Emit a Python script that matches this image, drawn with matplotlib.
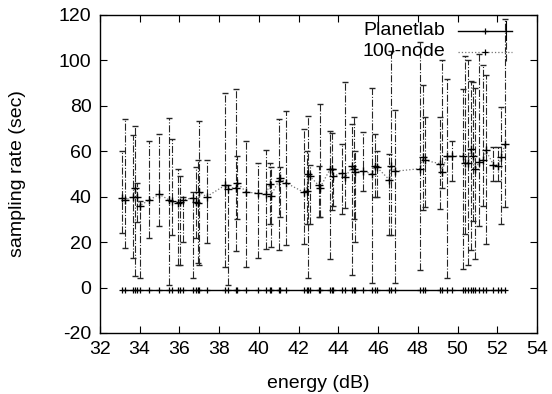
import matplotlib
matplotlib.use("Agg")
import matplotlib.pyplot as plt
import numpy as np

plt.rcParams['font.family'] = ['Liberation Sans', 'DejaVu Sans']
plt.rcParams['axes.unicode_minus'] = False

# 100-node series: energy (dB), mean sampling rate, low / high of error bar
energia = [33.09, 33.26, 33.68, 33.76, 33.88, 34.00, 34.48, 34.98, 35.50, 35.63,
           35.94, 36.03, 36.17, 36.67, 36.83, 36.95, 37.00, 37.37, 38.30, 38.44,
           38.84, 38.92, 39.36, 39.98, 40.36, 40.54, 40.61, 41.00, 41.08, 41.38,
           42.25, 42.40, 42.49, 42.57, 43.00, 43.08, 43.60, 43.70, 43.75, 44.20,
           44.34, 44.70, 44.80, 44.86, 45.26, 45.68, 45.85, 45.93, 46.57, 46.64,
           46.85, 48.10, 48.27, 48.36, 49.12, 49.20, 49.45, 49.70, 50.26, 50.37,
           50.54, 50.66, 50.76, 50.88, 51.10, 51.26, 51.43, 51.80, 52.05, 52.20,
           52.39]
media = [39.5, 38.5, 40.0, 44.0, 40.0, 36.0, 38.5, 41.0, 38.5, 38.0,
         37.0, 37.5, 38.5, 39.5, 37.5, 37.0, 42.0, 40.0, 45.0, 43.5,
         44.0, 46.0, 42.0, 41.5, 41.0, 45.5, 40.5, 47.0, 48.0, 46.0,
         42.0, 42.5, 50.0, 49.0, 45.0, 44.0, 52.4, 52.0, 49.0, 50.4,
         48.5, 53.3, 52.0, 51.0, 51.2, 50.0, 53.7, 53.0, 47.4, 53.7,
         51.2, 52.3, 57.4, 56.0, 54.5, 50.8, 57.7, 57.7, 58.0, 54.8,
         55.0, 61.0, 58.0, 52.3, 55.2, 56.0, 60.4, 54.0, 53.7, 57.4,
         63.3]
bajo = [23.8, 17.2, 13.0, 5.0, 29.0, 4.0, 22.0, 27.0, 1.0, 23.0,
        10.0, 10.0, 20.0, 4.0, 22.0, 11.0, 10.0, 19.5, 9.0, 1.0,
        16.0, 30.0, 9.0, 13.0, 17.0, 28.0, 18.0, 16.5, 31.0, 18.5,
        19.0, 28.0, 4.0, 28.0, 31.0, 31.0, 12.7, 34.0, 36.0, 32.5,
        35.0, 5.3, 30.0, 20.0, 42.7, 1.9, 39.8, 39.8, 23.2, 23.0,
        1.8, 7.5, 34.0, 35.4, 34.4, 43.6, 4.1, 47.0, 8.2, 23.6,
        9.7, 16.3, 29.5, 12.6, 27.3, 36.0, 19.2, 47.0, 47.0, 28.0,
        35.4]
alto = [60.3, 74.4, 67.0, 71.0, 46.0, 38.0, 64.5, 67.5, 74.5, 65.5,
        52.0, 49.0, 40.0, 42.0, 53.0, 56.0, 73.5, 56.0, 85.5, 45.0,
        87.5, 58.0, 64.5, 55.0, 60.5, 55.0, 53.0, 74.0, 53.0, 77.5,
        70.0, 60.0, 75.7, 54.0, 53.7, 81.0, 69.0, 68.0, 52.0, 63.3,
        90.5, 72.0, 75.0, 60.0, 68.4, 88.0, 67.8, 60.0, 58.9, 104.0,
        78.0, 108.0, 89.0, 75.0, 75.0, 100.0, 92.0, 64.7, 87.5, 102.0,
        100.0, 91.0, 90.4, 88.0, 103.0, 97.8, 93.4, 61.8, 61.8, 79.4,
        118.3]

# Planetlab series sits flat just under zero
planetlab = [-1.0] * len(energia)

x = np.array(energia)
y = np.array(media)
err = [y - np.array(bajo), np.array(alto) - y]

fig = plt.figure(figsize=(5.52, 3.94), dpi=100)
ax = fig.add_axes([0.181, 0.155, 0.792, 0.807])

ax.plot(x, planetlab, '-', color='black', lw=1.0, marker='+', ms=5, mew=0.9)

eb = ax.errorbar(x, y, yerr=err, fmt=':', color='0.45', lw=0.9,
                 marker='+', ms=6, mec='black', mew=1.0,
                 ecolor='0.15', elinewidth=0.8, capsize=2, capthick=0.8)
eb[2][0].set_linestyle('-.')

ax.set_xlim(32, 54)
ax.set_ylim(-20, 120)
ax.set_xticks(np.arange(32, 55, 2))
ax.set_yticks(np.arange(-20, 121, 20))
ax.tick_params(direction='in', length=5, top=True, right=True, labelsize=14, pad=6)
for s in ax.spines.values():
    s.set_linewidth(1.0)

ax.set_xlabel('energy (dB)', fontsize=14, labelpad=12)
ax.set_ylabel('sampling rate (sec)', fontsize=14, labelpad=24)

# key drawn gnuplot style: text right-justified, then sample line
ax.text(0.79, 0.95, 'Planetlab', transform=ax.transAxes, ha='right', va='center', fontsize=14)
ax.text(0.79, 0.884, '100-node', transform=ax.transAxes, ha='right', va='center', fontsize=14)
ax.plot([0.82, 0.943], [0.95, 0.95], '-', color='black', lw=1.0, transform=ax.transAxes)
ax.plot([0.88], [0.95], '+', color='black', ms=5, mew=0.9, transform=ax.transAxes)
ax.plot([0.82, 0.943], [0.884, 0.884], ':', color='0.45', lw=0.9, transform=ax.transAxes)
ax.plot([0.88], [0.884], '+', color='black', ms=5, mew=0.9, transform=ax.transAxes)
ax.plot([0.93, 0.93], [0.92, 0.98], '-', color='black', lw=0.8, transform=ax.transAxes)
ax.plot([0.93, 0.93], [0.854, 0.914], '-.', color='0.15', lw=0.8, transform=ax.transAxes)

fig.savefig('out.png', dpi=100)
